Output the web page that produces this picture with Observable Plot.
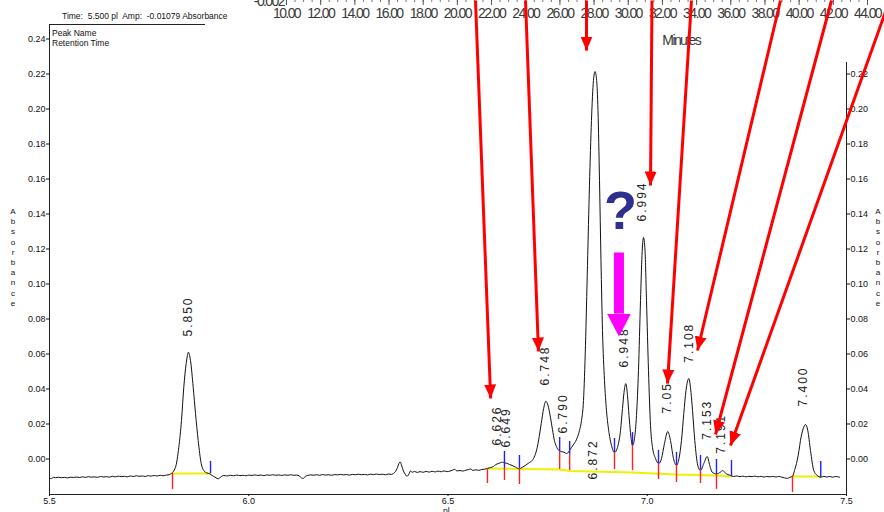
<!DOCTYPE html>
<html><head><meta charset="utf-8">
<script src="https://cdn.jsdelivr.net/npm/d3@7"></script>
<script src="https://cdn.jsdelivr.net/npm/@observablehq/plot@0.6"></script>
<style>
html,body{margin:0;padding:0;background:#fff;}
#wrap{position:relative;width:884px;height:512px;overflow:hidden;font-family:"Liberation Sans",Arial,sans-serif;background:#fff;}
#wrap > *{position:absolute;}
.small{font-size:8.5px;color:#111;white-space:pre;line-height:10px;}
.stack{font-size:8px;line-height:10.2px;text-align:center;width:12px;color:#111;}
</style></head><body><div id="wrap"></div>
<script>
// ---------- DATA ----------
const traceT = [5.500,5.505,5.510,5.515,5.523,5.530,5.538,5.545,5.553,5.560,5.568,5.575,5.583,5.590,5.598,5.605,5.613,5.620,5.628,5.635,5.643,5.650,5.658,5.665,5.673,5.680,5.688,5.695,5.703,5.710,5.718,5.725,5.733,5.740,5.748,5.755,5.763,5.770,5.778,5.785,5.793,5.800,5.8036,
5.8162,5.8245,5.8312,5.8370,5.8430,5.8462,5.8485,5.8510,5.8538,5.8606,5.8664,5.8731,5.8807,5.8872,5.8950,5.9023,5.9080,5.9123,5.9180,5.9233,5.9290,5.9374,5.9450,5.9542,
5.962,5.970,5.978,5.985,5.993,6.000,6.008,6.015,6.023,6.030,6.038,6.045,6.053,6.060,6.068,6.075,6.083,6.090,6.098,6.105,6.113,6.120,6.127,6.132,6.137,6.142,6.148,6.155,6.163,6.170,6.178,6.185,6.193,6.200,6.208,6.215,6.223,6.230,6.238,6.245,6.253,6.260,6.268,6.275,6.283,6.290,6.298,6.305,6.313,6.320,6.328,6.335,6.343,6.350,6.358,6.363,6.368,6.373,6.377,6.380,6.384,6.388,6.393,6.397,6.402,6.406,6.410,6.416,6.423,6.430,6.438,6.445,6.453,6.460,6.468,6.475,6.483,6.490,6.498,6.505,6.512,6.517,6.522,6.530,6.537,6.545,6.552,6.557,6.562,6.570,6.577,6.585,6.592,6.599,
6.607,6.614,6.620,6.626,6.632,6.637,6.642,6.647,6.654,6.661,6.669,6.679,6.686,6.694,6.703,6.711,6.718,6.724,6.729,6.734,6.740,6.7454,6.751,6.757,6.762,6.767,6.772,6.778,6.785,6.791,6.798,6.804,6.810,6.816,6.820,6.824,6.830,6.835,6.840,6.845,6.850,6.855,6.860,6.865,6.869,6.8726,6.8764,6.8802,6.8839,6.8877,6.8927,6.8977,6.9040,6.9103,6.9178,6.9253,6.9329,6.9379,6.9417,6.9462,6.9504,6.9542,6.9579,6.9630,6.9680,6.9730,6.9780,6.9831,6.9868,6.9906,6.9944,6.9981,7.0031,7.0082,7.0132,7.0207,7.0290,7.0358,7.0433,7.0515,7.0583,7.0658,7.0734,7.0797,7.0859,7.0917,7.0972,7.1042,7.1098,7.1136,7.1193,7.1268,7.1336,7.1419,7.1504,7.1569,7.1629,7.1737,7.1838,7.1895,7.1963,7.2088,7.2164,
7.225,7.233,7.240,7.248,7.255,7.263,7.270,7.278,7.285,7.293,7.300,7.308,7.315,7.323,7.330,7.338,7.345,7.352,7.358,7.3645,7.3695,7.3762,7.3808,7.3845,7.3913,7.3971,7.4028,7.4096,7.4179,7.4264,7.4354,7.443,7.450,7.458,7.465,7.473,7.4824];
const traceA = [-0.0112,-0.0111,-0.0105,-0.0107,-0.0104,-0.0107,-0.0105,-0.0108,-0.0104,-0.0106,-0.0103,-0.0106,-0.0102,-0.0105,-0.0101,-0.0104,-0.0102,-0.0105,-0.0100,-0.0103,-0.0101,-0.0104,-0.0099,-0.0102,-0.0098,-0.0101,-0.0099,-0.0102,-0.0097,-0.0100,-0.0096,-0.0099,-0.0097,-0.0100,-0.0095,-0.0098,-0.0094,-0.0097,-0.0093,-0.0096,-0.0092,-0.0090,-0.0086,
-0.0047,0.0067,0.0220,0.0410,0.0546,0.0592,0.0610,0.0598,0.0563,0.0410,0.0260,0.0106,-0.0026,-0.0066,-0.0080,-0.0085,-0.0094,-0.0100,-0.0108,-0.0113,-0.0104,-0.0094,-0.0097,-0.0093,
-0.0096,-0.0092,-0.0095,-0.0093,-0.0096,-0.0092,-0.0094,-0.0091,-0.0094,-0.0092,-0.0095,-0.0091,-0.0093,-0.0090,-0.0093,-0.0091,-0.0094,-0.0091,-0.0093,-0.0090,-0.0093,-0.0092,-0.0097,-0.0108,-0.0111,-0.0099,-0.0094,-0.0091,-0.0093,-0.0090,-0.0093,-0.0089,-0.0092,-0.0090,-0.0093,-0.0089,-0.0091,-0.0088,-0.0091,-0.0089,-0.0092,-0.0088,-0.0090,-0.0087,-0.0090,-0.0088,-0.0091,-0.0087,-0.0089,-0.0086,-0.0089,-0.0087,-0.0090,-0.0086,-0.0088,-0.0083,-0.0072,-0.0050,-0.0025,-0.0017,-0.0040,-0.0068,-0.0088,-0.0099,-0.0086,-0.0068,-0.0076,-0.0071,-0.0077,-0.0072,-0.0076,-0.0071,-0.0075,-0.0070,-0.0074,-0.0069,-0.0073,-0.0068,-0.0072,-0.0069,-0.0063,-0.0059,-0.0068,-0.0066,-0.0069,-0.0064,-0.0060,-0.0057,-0.0065,-0.0062,-0.0065,-0.0060,-0.0058,-0.0054,
-0.0049,-0.0043,-0.0032,-0.0026,-0.0021,-0.0018,-0.0022,-0.0024,-0.0031,-0.0037,-0.0046,-0.0056,-0.0048,-0.0037,-0.0022,-0.0009,0.0020,0.0067,0.0130,0.0203,0.0289,0.0330,0.0306,0.0239,0.0170,0.0106,0.0072,0.0049,0.0042,0.0039,0.0031,0.0045,0.0066,0.0087,0.0100,0.0120,0.0163,0.0220,0.0334,0.0649,0.1106,0.1563,0.1934,0.2163,0.2214,0.2174,0.1991,0.1591,0.1134,0.0734,0.0449,0.0277,0.0151,0.0077,0.0037,0.0066,0.0163,0.0289,0.0380,0.0431,0.0363,0.0249,0.0151,0.0077,0.0117,0.0249,0.0506,0.0906,0.1163,0.1266,0.1191,0.0906,0.0506,0.0191,0.0066,0.0003,-0.0026,0.0003,0.0089,0.0157,0.0106,0.0003,-0.0037,0.0003,0.0106,0.0260,0.0391,0.0460,0.0380,0.0277,0.0106,-0.0037,-0.0066,-0.0026,0.0014,-0.0037,-0.0075,-0.0085,-0.0075,-0.0066,-0.0081,-0.0094,-0.0100,
-0.0097,-0.0101,-0.0098,-0.0102,-0.0099,-0.0101,-0.0098,-0.0102,-0.0099,-0.0103,-0.0100,-0.0102,-0.0099,-0.0103,-0.0100,-0.0104,-0.0108,-0.0111,-0.0104,-0.0100,-0.0066,-0.0009,0.0049,0.0106,0.0173,0.0197,0.0163,0.0049,-0.0066,-0.0094,-0.0104,-0.0099,-0.0103,-0.0100,-0.0104,-0.0100,-0.0104];

const peakNames = ["5.850","6.626","6.649","6.748","6.790","6.872","6.948","6.994","7.05","7.108","7.153","7.191","7.400"];
const peakLabelT = [5.849,6.624,6.647,6.745,6.790,6.865,6.943,6.988,7.051,7.104,7.151,7.186,7.392];
const peakLabelA = [0.0700,0.0077,0.0066,0.0420,0.0146,-0.0117,0.0523,0.1357,0.0260,0.0550,0.0110,0.0030,0.0300];

// peak delimiter ticks: start (red, below baseline) / end (blue, above baseline)
const markT  = [5.8087,5.9041,6.5990,6.6417,6.6417,6.6793,6.6793,6.7802,6.7802,6.8053,6.8053,6.9178,6.9178,6.9630,6.9630,7.0282,7.0282,7.0734,7.0734,7.1336,7.1336,7.1737,7.1737,7.2114,7.3645,7.4354];
const markA1 = [-0.0083,-0.0014,-0.0054,0.0043,-0.0054,0.0020,-0.0054,0.0123,0.0043,0.0100,0.0026,0.0117,0.0037,0.0151,0.0077,0.0049,-0.0026,0.0037,-0.0037,0.0020,-0.0060,-0.0003,-0.0089,-0.0009,-0.0094,-0.0014];
const markA2 = [-0.0174,-0.0083,-0.0140,-0.0054,-0.0123,-0.0054,-0.0146,0.0043,-0.0060,0.0026,-0.0066,0.0037,-0.0060,0.0077,-0.0066,-0.0026,-0.0117,-0.0037,-0.0134,-0.0060,-0.0140,-0.0089,-0.0174,-0.0100,-0.0191,-0.0106];
const markKind = ["start","end","start","end","start","end","start","end","start","end","start","end","start","end","start","end","start","end","start","end","start","end","start","end","start","end"];

// integration baselines
const baseT   = [5.8087,5.9041, 6.599,6.780,6.805,6.963,7.073,7.174,7.211, 7.3645,7.4354];
const baseA   = [-0.0083,-0.0083, -0.0054,-0.0060,-0.0069,-0.0077,-0.0089,-0.0094,-0.0100, -0.0100,-0.0100];
const baseSeg = [1,1, 2,2,2,2,2,2,2, 3,3];

// annotation arrows (minutes, absorbance)
const arrowT1 = [6.569,6.6945,6.8476,7.0119,7.1110,7.3344,7.4624,7.6079];
const arrowA1 = [0.262,0.262,0.262,0.262,0.262,0.262,0.262,0.262];
const arrowT2 = [6.607,6.727,6.8476,7.0082,7.0508,7.1261,7.1713,7.2089];
const arrowA2 = [0.0346,0.0614,0.2334,0.1563,0.0431,0.0620,0.0140,0.0077];
const bigArrowT = [6.929], bigArrowA1 = [0.118], bigArrowA2 = [0.0831];
const questionT = [6.933], questionA = [0.1414];

const yTicksLeft = [0,0.02,0.04,0.06,0.08,0.10,0.12,0.14,0.16,0.18,0.20,0.22,0.24];
const yTicksRight = [0,0.02,0.04,0.06,0.08,0.10,0.12,0.14,0.16,0.18,0.20,0.22];
const xTicks = [5.5,6.0,6.5,7.0,7.5];
const topTicks = [10,12,14,16,18,20,22,24,26,28,30,32,34,36,38,40,42,44];
const topMinor = d3.range(10, 44.01, 0.5);

// ---------- BUILD ----------
const trace = traceT.map((t,i)=>({t, a: traceA[i]}));
const labels = peakNames.map((n,i)=>({n, t: peakLabelT[i], a: peakLabelA[i]}));
const marks = markT.map((t,i)=>({t, a1: markA1[i], a2: markA2[i], kind: markKind[i]}));
const base = baseT.map((t,i)=>({t, a: baseA[i], seg: baseSeg[i]}));
const arrows = arrowT1.map((t,i)=>({t1:t, a1: arrowA1[i], t2: arrowT2[i], a2: arrowA2[i]}));
const big = bigArrowT.map((t,i)=>({t, a1: bigArrowA1[i], a2: bigArrowA2[i]}));
const question = questionT.map((t,i)=>({t, a: questionA[i]}));

const FONT = '"Liberation Sans", Arial, sans-serif';
const common = {
  width: 884, height: 512, marginLeft: 49, marginRight: 38, marginTop: 24, marginBottom: 18,
  style: {background: "transparent", fontFamily: FONT, fontSize: "9px", color: "#111", overflow: "visible"}
};
const X_DOMAIN = [5.5, 7.5], Y_DOMAIN = [-0.02029, 0.24829];
const f2 = d3.format(".2f"), f1 = d3.format(".1f");

const main = Plot.plot({
  ...common,
  x: {domain: X_DOMAIN}, y: {domain: Y_DOMAIN},
  color: {domain: ["start","end"], range: ["#ff2020","#2020ff"]},
  marks: [
    Plot.frame({stroke: "#222"}),
    Plot.axisY({ticks: yTicksLeft, tickFormat: f2, tickSize: 3, tickPadding: 1, label: null, anchor: "left"}),
    Plot.axisY({ticks: yTicksRight, tickFormat: f2, tickSize: 3, tickPadding: 1, label: null, anchor: "right"}),
    Plot.axisX({ticks: xTicks, tickFormat: f1, tickSize: 2, tickPadding: 1, label: null}),
    Plot.line(base, {x: "t", y: "a", z: "seg", stroke: "#f0f000", strokeWidth: 2}),
    Plot.line(trace, {x: "t", y: "a", stroke: "#111", strokeWidth: 1, curve: "monotone-x"}),
    Plot.ruleX(marks, {x: "t", y1: "a1", y2: "a2", stroke: "kind", strokeWidth: 1.4}),
    Plot.text(labels, {x: "t", y: "a", text: "n", rotate: -90, textAnchor: "start", fontSize: 12, fill: "#222"})
  ]
});
d3.select(main).selectAll('g[aria-label="text"] text').attr("letter-spacing", "2px");

// pasted minutes axis (white patch)
const patch = Plot.plot({
  width: 679, height: 62, marginLeft: 81, marginRight: 17, marginTop: 0, marginBottom: 62,
  x: {domain: [10, 44]},
  style: {background: "#fff", fontFamily: FONT, fontSize: "14px", color: "#3a3a3a", overflow: "visible"},
  marks: [
    Plot.axisX({ticks: topMinor, tickSize: 2, tickFormat: () => "", label: null, anchor: "bottom", stroke: "#777"}),
    Plot.axisX({ticks: topTicks, tickSize: 5, tickPadding: 3, tickFormat: f2, label: null, anchor: "bottom", stroke: "#555"}),
    Plot.text(["Minutes"], {x: () => 33.1, text: d => d, dy: 40, fontSize: 14, fill: "#3a3a3a"}),
    Plot.text(["-0.002"], {x: () => 9.85, text: d => d, textAnchor: "end", lineAnchor: "bottom", dy: 5, fontSize: 14, fill: "#3a3a3a"})
  ]
});
d3.select(patch).selectAll("text").attr("letter-spacing", "-1.6px");

function headMarker(len, hw, beyond) {
  return (color) => {
    const ns = "http://www.w3.org/2000/svg";
    const m = document.createElementNS(ns, "marker");
    m.setAttribute("viewBox", beyond ? `0 ${-hw} ${len} ${2*hw}` : `${-len} ${-hw} ${len} ${2*hw}`);
    m.setAttribute("markerUnits", "userSpaceOnUse");
    m.setAttribute("markerWidth", len);
    m.setAttribute("markerHeight", 2*hw);
    m.setAttribute("refX", 0);
    m.setAttribute("refY", 0);
    m.setAttribute("orient", "auto");
    const p = document.createElementNS(ns, "path");
    p.setAttribute("d", beyond ? `M0,${-hw}L${len},0L0,${hw}Z` : `M${-len},${-hw}L0,0L${-len},${hw}Z`);
    p.setAttribute("fill", color);
    p.setAttribute("stroke", "none");
    m.appendChild(p);
    return m;
  };
}

const over = Plot.plot({
  ...common,
  x: {domain: X_DOMAIN, axis: null}, y: {domain: Y_DOMAIN, axis: null},
  marks: [
    Plot.link(big, {x1: "t", y1: "a1", x2: "t", y2: "a2", stroke: "#ff00ff", strokeWidth: 10, markerEnd: headMarker(23, 12, true)}),
    Plot.text(question, {x: "t", y: "a", text: () => "?", fontSize: 54, fontWeight: "bold", fill: "#2f2f8f"}),
    Plot.link(arrows, {x1: "t1", y1: "a1", x2: "t2", y2: "a2", stroke: "#ff0000", strokeWidth: 3, markerEnd: headMarker(14, 6, false)})
  ]
});

const wrap = document.getElementById("wrap");
main.style.left = "0px"; main.style.top = "0px";
wrap.appendChild(main);
patch.style.left = "205px"; patch.style.top = "0px";
wrap.appendChild(patch);

function addText(txt, left, top, cls) {
  const d = document.createElement("div");
  d.className = cls; d.textContent = txt;
  d.style.left = left + "px"; d.style.top = top + "px";
  wrap.appendChild(d); return d;
}
addText("Time:  5.500 pl  Amp:  -0.01079 Absorbance", 62, 11, "small");
addText("Peak Name", 52, 28, "small");
addText("Retention Time", 52, 38, "small");
addText("pl", 443, 506, "small");
const yTitle = "Absorbance";
for (const left of [7, 872]) {
  const d = document.createElement("div");
  d.className = "stack"; d.innerHTML = yTitle.split("").join("<br>");
  d.style.left = left + "px"; d.style.top = "207px";
  wrap.appendChild(d);
}
over.style.left = "0px"; over.style.top = "0px"; over.style.pointerEvents = "none";
wrap.appendChild(over);
</script></body></html>
